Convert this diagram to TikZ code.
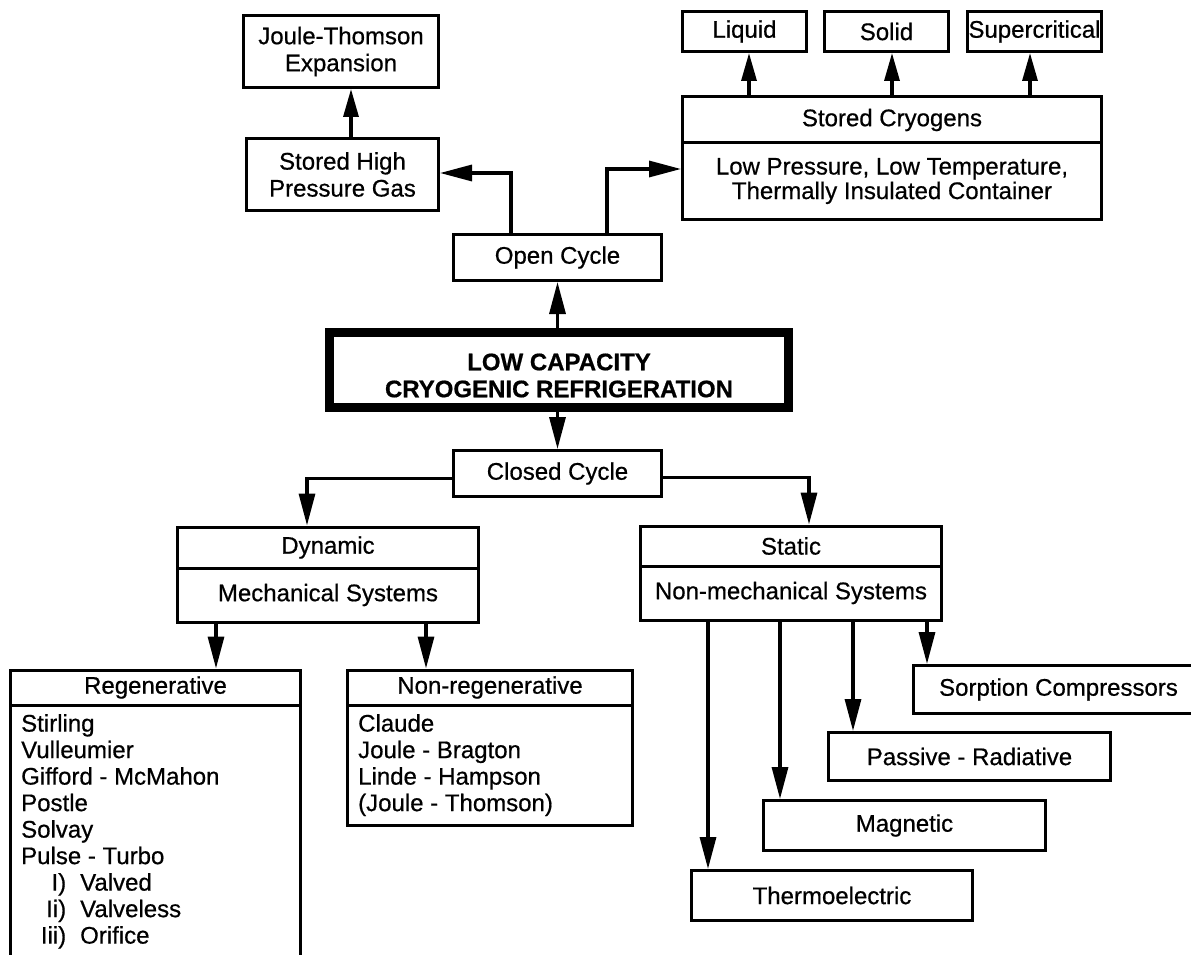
\documentclass[tikz,border=0pt]{standalone}
\usepackage{fontspec}
\setmainfont{Liberation Sans}[FakeBold=0.6]
\usetikzlibrary{arrows.meta}
\begin{document}
\begin{tikzpicture}[x=1pt,y=-1pt,
  box/.style={draw, line width=3pt, inner sep=0pt, align=center,
    font=\fontsize{24}{27}\selectfont},
  arr/.style={line width=3.3pt, -{Triangle[length=32pt,width=16pt]}},
  sarr/.style={line width=3.3pt, -{Triangle[length=28pt,width=15pt]}},
  listtext/.style={inner sep=0pt, align=left, anchor=north west,
    font=\fontsize{24}{26.5}\selectfont}]
\useasboundingbox (0,0) rectangle (1191,955);
\clip (0,0) rectangle (1191,955);
\fill[white] (0,0) rectangle (1191,955);

% ---- open cycle branch ----
\node[box, minimum width=195pt, minimum height=72pt] (jt) at (341,51.5) {Joule-Thomson\\Expansion};
\node[box, minimum width=192pt, minimum height=72pt] (shpg) at (342.5,174.5) {Stored High\\Pressure Gas};
\node[box, minimum width=208pt, minimum height=46pt] (open) at (557.5,257.5) {Open Cycle};

\node[box, minimum width=124pt, minimum height=40pt] (liquid) at (744.5,31.5) {Liquid};
\node[box, minimum width=124pt, minimum height=40pt] (solid) at (886.5,31.5) {Solid};
\node[box, minimum width=134pt, minimum height=40pt] (super) at (1034.5,31.5) {Supercritical};

\node[box, minimum width=419pt, minimum height=46pt] (cryohead) at (892,120) {Stored Cryogens};
\node[box, minimum width=419pt, minimum height=76pt, font=\fontsize{24}{24.5}\selectfont] (cryobody) at (892,181)
  {Low Pressure, Low Temperature,\\Thermally Insulated Container};

% ---- root: heavy frame with its two-line caption ----
\node[box, line width=9pt, minimum width=459pt, minimum height=75pt] (title) at (559,370) {};
\node[inner sep=0pt, align=center, font=\fontsize{24}{27}\selectfont\bfseries] (titletext) at (559,375.5)
  {LOW CAPACITY\\CRYOGENIC REFRIGERATION};

% ---- closed cycle branch ----
\node[box, minimum width=208pt, minimum height=46pt] (closed) at (557.5,473.5) {Closed Cycle};

\node[box, minimum width=301pt, minimum height=41pt] (dynhead) at (328,547.5) {Dynamic};
\node[box, minimum width=301pt, minimum height=54pt] (dynbody) at (328,595) {Mechanical Systems};

\node[box, minimum width=301pt, minimum height=40pt] (stathead) at (791,546) {Static};
\node[box, minimum width=301pt, minimum height=54pt] (statbody) at (791,593) {Non-mechanical Systems};

\node[box, minimum width=290pt, minimum height=35pt] (regenhead) at (155.5,687.5) {Regenerative};
\node[box, minimum width=290pt, minimum height=290pt] (regenbody) at (155.5,850) {};
\node[listtext] (regenlist) at (21,714)
  {Stirling\\Vulleumier\\Gifford - McMahon\\Postle\\Solvay\\Pulse - Turbo\\
   \makebox[45pt][r]{I)}\hspace{14pt}Valved\\
   \makebox[45pt][r]{Ii)}\hspace{14pt}Valveless\\
   \makebox[45pt][r]{Iii)}\hspace{14pt}Orifice};

\node[box, minimum width=285pt, minimum height=35pt] (nonreghead) at (490,687.5) {Non-regenerative};
\node[box, minimum width=285pt, minimum height=120pt] (nonregbody) at (490,765) {};
\node[listtext] (nonreglist) at (358,714)
  {Claude\\Joule - Bragton\\Linde - Hampson\\(Joule - Thomson)};

\node[box, minimum width=290pt, minimum height=48pt] (sorp) at (1058.5,689.5) {Sorption Compressors};
\node[box, minimum width=282pt, minimum height=48pt] (passive) at (969.5,756.5) {Passive - Radiative};
\node[box, minimum width=282pt, minimum height=50pt] (magnetic) at (904.5,825.5) {Magnetic};
\node[box, minimum width=281pt, minimum height=50pt] (thermo) at (832,895.5) {Thermoelectric};

% ---- connectors: open cycle ----
\draw[arr] (title.north -| open.south) -- (open.south);
\draw[arr] ([xshift=-46.5pt]open.north) |- ([yshift=1.5pt]shpg.east);
\draw[arr] ([xshift=49.5pt]open.north) |- ([yshift=12pt]cryobody.west);
\coordinate (j1) at ([xshift=10pt]jt.south);
\draw[sarr] (shpg.north -| j1) -- (j1);
\coordinate (l1) at ([xshift=4.5pt]liquid.south);
\coordinate (s1) at ([xshift=5.5pt]solid.south);
\coordinate (c1) at ([xshift=-4.5pt]super.south);
\draw[sarr] (cryohead.north -| l1) -- (l1);
\draw[sarr] (cryohead.north -| s1) -- (s1);
\draw[sarr] (cryohead.north -| c1) -- (c1);

% ---- connectors: closed cycle ----
\draw[arr] (title.south -| closed.north) -- (closed.north);
\draw[arr] ([yshift=-5pt]closed.west) -| ([xshift=-21pt]dynhead.north);
\draw[arr] ([yshift=-4pt]closed.east) -| ([xshift=18pt]stathead.north);

\coordinate (r1) at ([xshift=60.5pt]regenhead.north);
\coordinate (n1) at ([xshift=-64pt]nonreghead.north);
\draw[arr] (dynbody.south -| r1) -- (r1);
\draw[arr] (dynbody.south -| n1) -- (n1);

\coordinate (t1) at ([xshift=-124pt]thermo.north);
\coordinate (m1) at ([xshift=-124.5pt]magnetic.north);
\coordinate (p1) at ([xshift=-116.5pt]passive.north);
\coordinate (q1) at ([xshift=-131.5pt]sorp.north);
\draw[arr] (statbody.south -| t1) -- (t1);
\draw[arr] (statbody.south -| m1) -- (m1);
\draw[arr] (statbody.south -| p1) -- (p1);
\draw[arr] (statbody.south -| q1) -- (q1);
\end{tikzpicture}
\end{document}
